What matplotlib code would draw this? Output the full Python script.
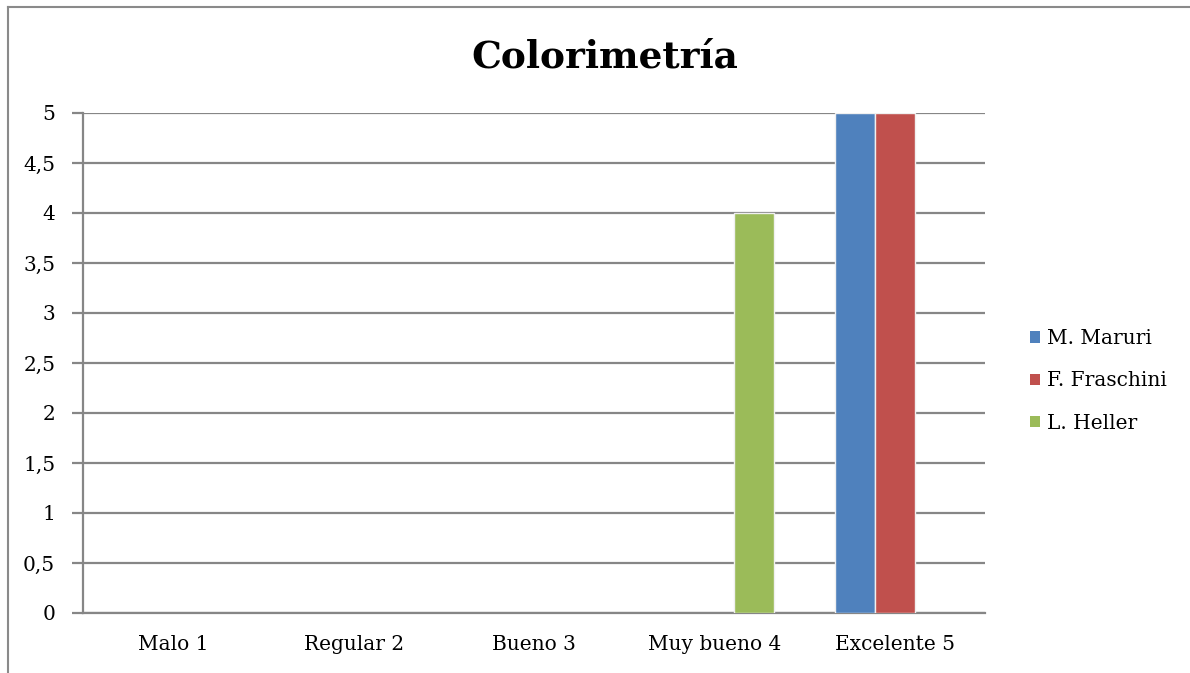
import matplotlib
matplotlib.use("Agg")
import matplotlib.pyplot as plt
from matplotlib.lines import Line2D
from matplotlib.patches import Patch
import numpy as np

categories = ["Malo 1", "Regular 2", "Bueno 3", "Muy bueno 4", "Excelente 5"]
series_names = ["M. Maruri", "F. Fraschini", "L. Heller"]
maruri = [0, 0, 0, 0, 5]
fraschini = [0, 0, 0, 0, 5]
heller = [0, 0, 0, 4, 0]
y_ticks = [0, 0.5, 1, 1.5, 2, 2.5, 3, 3.5, 4, 4.5, 5]
y_labels = ["0", "0,5", "1", "1,5", "2", "2,5", "3", "3,5", "4", "4,5", "5"]
title = "Colorimetría"

colors = ["#4F81BD", "#C0504D", "#9BBB59"]
grid_c = "#868686"
font = "DejaVu Serif"
fs = 14.5

W, H = 1190, 673
fig = plt.figure(figsize=(W / 100, H / 100), dpi=100)
ax = fig.add_axes([83 / W, 1 - 613 / H, (985 - 83) / W, (613 - 113) / H])

x = np.arange(len(categories))
bw = 0.222
for i, (vals, c, name) in enumerate(zip([maruri, fraschini, heller], colors, series_names)):
    bars = ax.bar(x + (i - 1) * bw, vals, width=bw, color=c, edgecolor="#f0f0f0",
                  linewidth=1.0, zorder=3, label=name)
    for b, v in zip(bars, vals):
        if v == 0:
            b.set_visible(False)

ax.set_xlim(-0.5, len(categories) - 0.5)
ax.set_ylim(0, 5)
ax.set_yticks(y_ticks)
ax.set_yticklabels(y_labels, fontfamily=font, fontsize=fs)
ax.set_xticks(x)
ax.set_xticklabels(categories, fontfamily=font, fontsize=fs)
ax.tick_params(axis="x", length=0, pad=16)
ax.tick_params(axis="y", length=8, width=1.6, color=grid_c, pad=12)
ax.grid(axis="y", color=grid_c, linewidth=1.6, zorder=0)
for s in ["top", "right"]:
    ax.spines[s].set_visible(False)
for s in ["left", "bottom"]:
    ax.spines[s].set_color(grid_c)
    ax.spines[s].set_linewidth(1.6)

fig.text(605 / W, 1 - 57 / H, title, ha="center", va="center",
         fontfamily=font, fontweight="bold", fontsize=27)

handles = [Patch(facecolor=c, edgecolor="none") for c in colors]
leg = fig.legend(handles, series_names, loc="center left",
                 bbox_to_anchor=(1012 / W, 1 - 381 / H), frameon=False,
                 prop={"family": font, "size": fs}, handlelength=0.5,
                 handleheight=0.5, handletextpad=0.35, labelspacing=1.15)

# outer chart frame (cropped at right and bottom)
fig.add_artist(Line2D([8 / W, 8 / W], [0, 1 - 7 / H], transform=fig.transFigure,
                      color="#8a8a8a", linewidth=1.5))
fig.add_artist(Line2D([8 / W, 1], [1 - 7 / H, 1 - 7 / H], transform=fig.transFigure,
                      color="#8a8a8a", linewidth=1.5))

fig.savefig("out.png", dpi=100)
